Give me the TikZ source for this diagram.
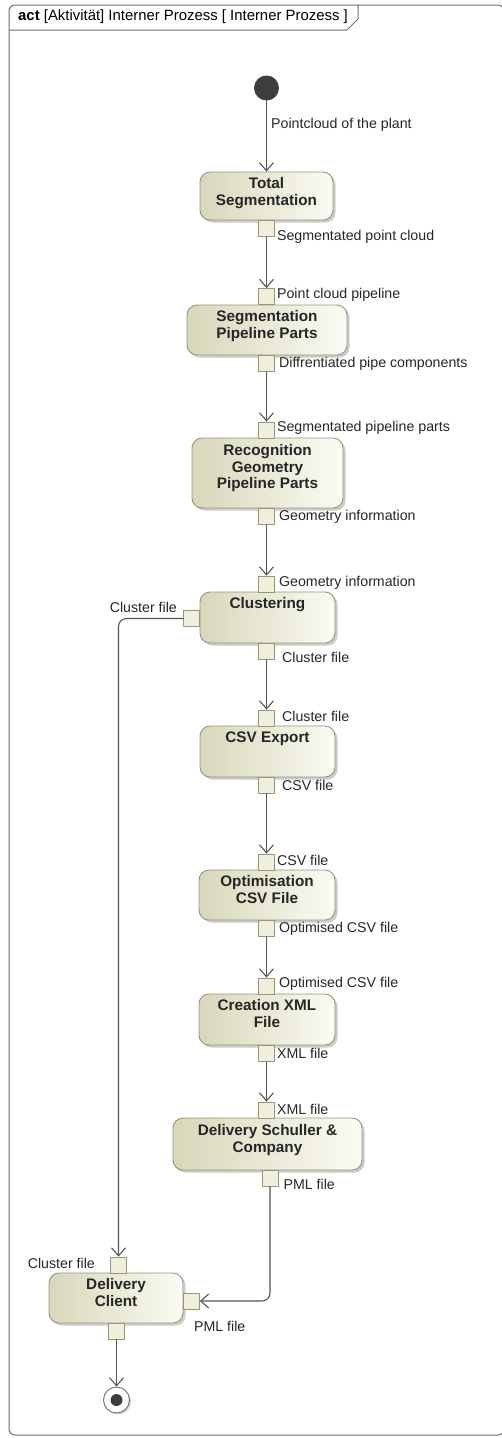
\documentclass[tikz,border=0pt]{standalone}
\usepackage{fontspec}
\setmainfont{Liberation Sans}
\usetikzlibrary{arrows.meta,shadows,positioning}
\definecolor{boxdark}{RGB}{216,215,186}
\definecolor{boxlight}{RGB}{251,251,244}
\definecolor{boxline}{RGB}{150,150,122}
\definecolor{pinfill}{RGB}{240,239,219}
\definecolor{flowcol}{RGB}{85,85,85}
\definecolor{framecol}{RGB}{110,110,110}
\definecolor{initcol}{RGB}{62,62,62}
\tikzset{
  action/.style={rectangle,rounded corners=10pt,draw=boxline,line width=0.9pt,
    left color=boxdark,right color=boxlight,
    drop shadow={shadow xshift=2.5pt,shadow yshift=-2.5pt,fill=black!45,opacity=.45}},
  acttext/.style={font=\fontsize{15.3}{16.5}\selectfont\bfseries,text=black!85,align=center,inner sep=0pt},
  pin/.style={rectangle,draw=boxline,fill=pinfill,line width=0.8pt,minimum size=16pt,inner sep=0pt},
  lbl/.style={font=\fontsize{14.2}{16}\selectfont,text=black!85,inner sep=1pt},
  flow/.style={draw=flowcol,line width=1.1pt,-{Straight Barb[length=8pt,width=14pt]}},
}
\begin{document}
\begin{tikzpicture}[x=1pt,y=-1pt,line cap=round,line join=round]
  \useasboundingbox (0,0) rectangle (502,1438);
  % frame and tab
  \draw[framecol,line width=1pt,rounded corners=6pt] (9,5) rectangle (504,1435);
  \draw[framecol,line width=1pt] (9,30) -- (347,30) -- (358,19) -- (358,5);
  \node[anchor=west,inner sep=0pt,font=\fontsize{14.9}{16}\selectfont] (title) at (18,17)
    {\textbf{act} [Aktivität] Interner Prozess [ Interner Prozess ]};
  % start and end
  \node[circle,fill=initcol,minimum size=25pt,inner sep=0pt] (init) at (266.5,88) {};
  \node[circle,draw=framecol,fill=white,line width=0.9pt,minimum size=26pt,inner sep=0pt,
    drop shadow={shadow xshift=1.5pt,shadow yshift=-1.5pt,fill=black!45,opacity=.4}] (final) at (116.5,1400) {};
  \node[circle,fill=initcol,minimum size=12pt,inner sep=0pt] (final-dot) at (final) {};
  % actions
  \node[action,minimum width=133pt,minimum height=48pt] (ts) at (266.5,196) {};
  \node[action,minimum width=160pt,minimum height=50pt] (spp) at (267,330) {};
  \node[action,minimum width=151pt,minimum height=70pt] (rgp) at (267.5,473) {};
  \node[action,minimum width=135pt,minimum height=51pt] (cl) at (267.5,617.5) {};
  \node[action,minimum width=135pt,minimum height=51pt] (csv) at (267.5,751.5) {};
  \node[action,minimum width=136pt,minimum height=50pt] (opt) at (267,895) {};
  \node[action,minimum width=136pt,minimum height=51pt] (cxf) at (267,1019.5) {};
  \node[action,minimum width=189pt,minimum height=52pt] (dsc) at (267.5,1144) {};
  \node[action,minimum width=134pt,minimum height=50pt] (dc) at (116,1298) {};
  \node[acttext,below=6pt of ts.north] (ts-t) {Total\\Segmentation};
  \node[acttext,below=6pt of spp.north] (spp-t) {Segmentation\\Pipeline Parts};
  \node[acttext,below=7pt of rgp.north] (rgp-t) {Recognition\\Geometry\\Pipeline Parts};
  \node[acttext,below=6pt of cl.north] (cl-t) {Clustering};
  \node[acttext,below=6pt of csv.north] (csv-t) {CSV Export};
  \node[acttext,below=6pt of opt.north] (opt-t) {Optimisation\\CSV File};
  \node[acttext,below=6pt of cxf.north] (cxf-t) {Creation XML\\File};
  \node[acttext,below=7pt of dsc.north] (dsc-t) {Delivery Schuller \&\\Company};
  \node[acttext,below=6pt of dc.north] (dc-t) {Delivery\\Client};
  % pins
  \node[pin] (pTSo) at (266.5,228.5) {};
  \node[pin] (pSPPi) at (266.5,296.5) {};
  \node[pin] (pSPPo) at (266.5,363.5) {};
  \node[pin] (pRGPi) at (266.5,430) {};
  \node[pin] (pRGPo) at (266.5,516.5) {};
  \node[pin] (pCLi) at (266.5,584) {};
  \node[pin] (pCLl) at (191.5,618.5) {};
  \node[pin] (pCLo) at (266.5,651.5) {};
  \node[pin] (pCSVi) at (266.5,718) {};
  \node[pin] (pCSVo) at (266.5,785) {};
  \node[pin] (pOPTi) at (266.5,862) {};
  \node[pin] (pOPTo) at (266.5,928.5) {};
  \node[pin] (pCXFi) at (266.5,986) {};
  \node[pin] (pCXFo) at (266.5,1053.5) {};
  \node[pin] (pDSCi) at (266.5,1110) {};
  \node[pin] (pDSCo) at (270,1178) {};
  \node[pin] (pDCt) at (118.5,1265) {};
  \node[pin] (pDCr) at (191.5,1301) {};
  \node[pin] (pDCo) at (116.5,1331) {};
  % pin labels
  \node[lbl,anchor=west] (l-init) at (270,125) {Pointcloud of the plant};
  \node[lbl,right=1pt of pTSo.south east] (l-tso) {Segmentated point cloud};
  \node[lbl,right=1pt of pSPPi.east,yshift=2pt] (l-sppi) {Point cloud pipeline};
  \node[lbl,right=3pt of pSPPo.east] (l-sppo) {Diffrentiated pipe components};
  \node[lbl,right=1pt of pRGPi.east,yshift=2pt] (l-rgpi) {Segmentated pipeline parts};
  \node[lbl,right=3pt of pRGPo.east] (l-rgpo) {Geometry information};
  \node[lbl,right=3pt of pCLi.east,yshift=1pt] (l-cli) {Geometry information};
  \node[lbl,above left=-4pt and 5pt of pCLl.north west] (l-cll) {Cluster file};
  \node[lbl,right=6pt of pCLo.south east,yshift=2pt] (l-clo) {Cluster file};
  \node[lbl,right=6pt of pCSVi.east,yshift=2pt] (l-csvi) {Cluster file};
  \node[lbl,right=6pt of pCSVo.east] (l-csvo) {CSV file};
  \node[lbl,right=1pt of pOPTi.east,yshift=2pt] (l-opti) {CSV file};
  \node[lbl,right=3pt of pOPTo.east] (l-opto) {Optimised CSV file};
  \node[lbl,right=3pt of pCXFi.east,yshift=2pt] (l-cxfi) {Optimised CSV file};
  \node[lbl,right=1pt of pCXFo.east] (l-cxfo) {XML file};
  \node[lbl,right=1pt of pDSCi.east,yshift=1pt] (l-dsci) {XML file};
  \node[lbl,right=4pt of pDSCo.south east,yshift=2pt] (l-dsco) {PML file};
  \node[lbl,left=14pt of pDCt.west,yshift=2pt] (l-dct) {Cluster file};
  \node[lbl,below right=11pt and -7pt of pDCr.south east] (l-dcr) {PML file};
  % flows
  \draw[flow] (init) -- (ts);
  \draw[flow] (pTSo) -- (pSPPi);
  \draw[flow] (pSPPo) -- (pRGPi);
  \draw[flow] (pRGPo) -- (pCLi);
  \draw[flow] (pCLo) -- (pCSVi);
  \draw[flow] (pCSVo) -- (pOPTi);
  \draw[flow] (pOPTo) -- (pCXFi);
  \draw[flow] (pCXFo) -- (pDSCi);
  \draw[flow,rounded corners=8pt] (pCLl.west) -| (pDCt.north);
  \draw[flow,rounded corners=8pt] (pDSCo.south) |- (pDCr.east);
  \draw[flow] (pDCo) -- (final);
\end{tikzpicture}
\end{document}
